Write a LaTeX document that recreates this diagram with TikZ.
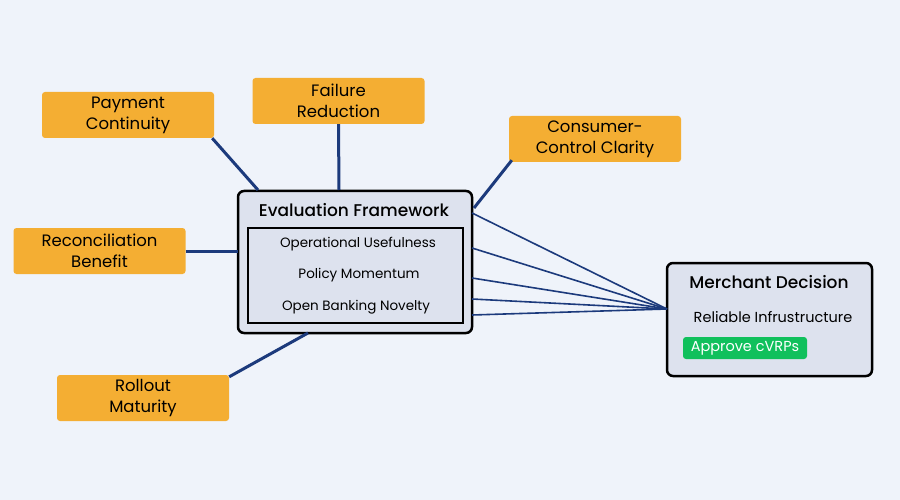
\documentclass[tikz,border=0pt]{standalone}
\usepackage{fontspec}
\setmainfont{Poppins}[BoldFont={Poppins Medium}]
\usetikzlibrary{positioning,calc}
\definecolor{bgc}{HTML}{EFF3FA}
\definecolor{orng}{HTML}{F4AE33}
\definecolor{panel}{HTML}{DDE2EE}
\definecolor{navy}{HTML}{1C3A7C}
\definecolor{grn}{HTML}{10C05C}
\tikzset{
	factor/.style={fill=orng,rounded corners=3pt,minimum width=172pt,minimum height=46pt,align=center,font=\fontsize{16.5}{21}\selectfont,inner sep=0pt},
	frame/.style={draw=black,line width=2.5pt,fill=panel,rounded corners=6pt},
	item/.style={font=\fontsize{13.5}{15}\selectfont,inner sep=0pt},
	link/.style={draw=navy,line width=3pt},
	fan/.style={draw=navy,line width=1.6pt}
}
\begin{document}
\begin{tikzpicture}[x=1pt,y=-1pt]
				\fill[bgc] (0,0) rectangle (900,500);
				\useasboundingbox (0,0) rectangle (900,500);
				
				%Facteurs
				\node[factor] (pay) at (128,115) {Payment\\Continuity};
				\node[factor] (fail) at (338.5,101) {Failure\\Reduction};
				\node[factor] (cons) at (595,139) {Consumer-\\Control Clarity};
				\node[factor] (reco) at (99.5,251) {Reconciliation\\Benefit};
				\node[factor] (roll) at (143,398) {Rollout\\Maturity};
				
				%Cadre d'evaluation
				\draw[frame] (238,191) rectangle (472,333);
				\draw[draw=black,line width=1.2pt,fill=panel] (248,228) rectangle (463,323);
				\node[font=\fontsize{17}{19}\selectfont\bfseries] (evt) at (354,210) {Evaluation Framework};
				\node[item] (ou) at (358,244) {Operational Usefulness};
				\node[item] (pm) at (359,275) {Policy Momentum};
				\node[item] (ob) at (356,307) {Open Banking Novelty};
				
				%Decision
				\draw[frame] (667,263) rectangle (872,376);
				\node[font=\fontsize{17}{19}\selectfont\bfseries] (mdt) at (769,282) {Merchant Decision};
				\node[item,font=\fontsize{14.5}{16}\selectfont] (ri) at (773,317) {Reliable Infrustructure};
				\node[fill=grn,text=white,rounded corners=3pt,minimum width=124pt,minimum height=22pt,inner sep=0pt,font=\fontsize{14.5}{16}\selectfont] (ok) at (745,348) {Approve cVRPs};
				
				%Points d'attache
				\coordinate (e1) at (258,190);
				\coordinate (e2) at (339,190);
				\coordinate (e3) at (474,208);
				\coordinate (e4) at (238,251);
				\coordinate (e5) at (308,333);
				\coordinate (m) at (667,309);
				
				%Liens
				\draw[link] (pay.south east) ++(-2,0) coordinate (p1) (p1) -- (e1);
				\draw[link] (fail.south) -- (e2);
				\draw[link] (cons.south west) ++(3,-2) coordinate (c1) (c1) -- (e3);
				\draw[link] (reco.east) -- (e4);
				\draw[link] (roll.north east) ++(0,2) coordinate (r1) (r1) -- (e5);
				
				\foreach \y in {213,248,278,299,315}{
					\coordinate (f\y) at (472,\y);
					\draw[fan] (f\y) -- (m);
				}
\end{tikzpicture}
\end{document}
